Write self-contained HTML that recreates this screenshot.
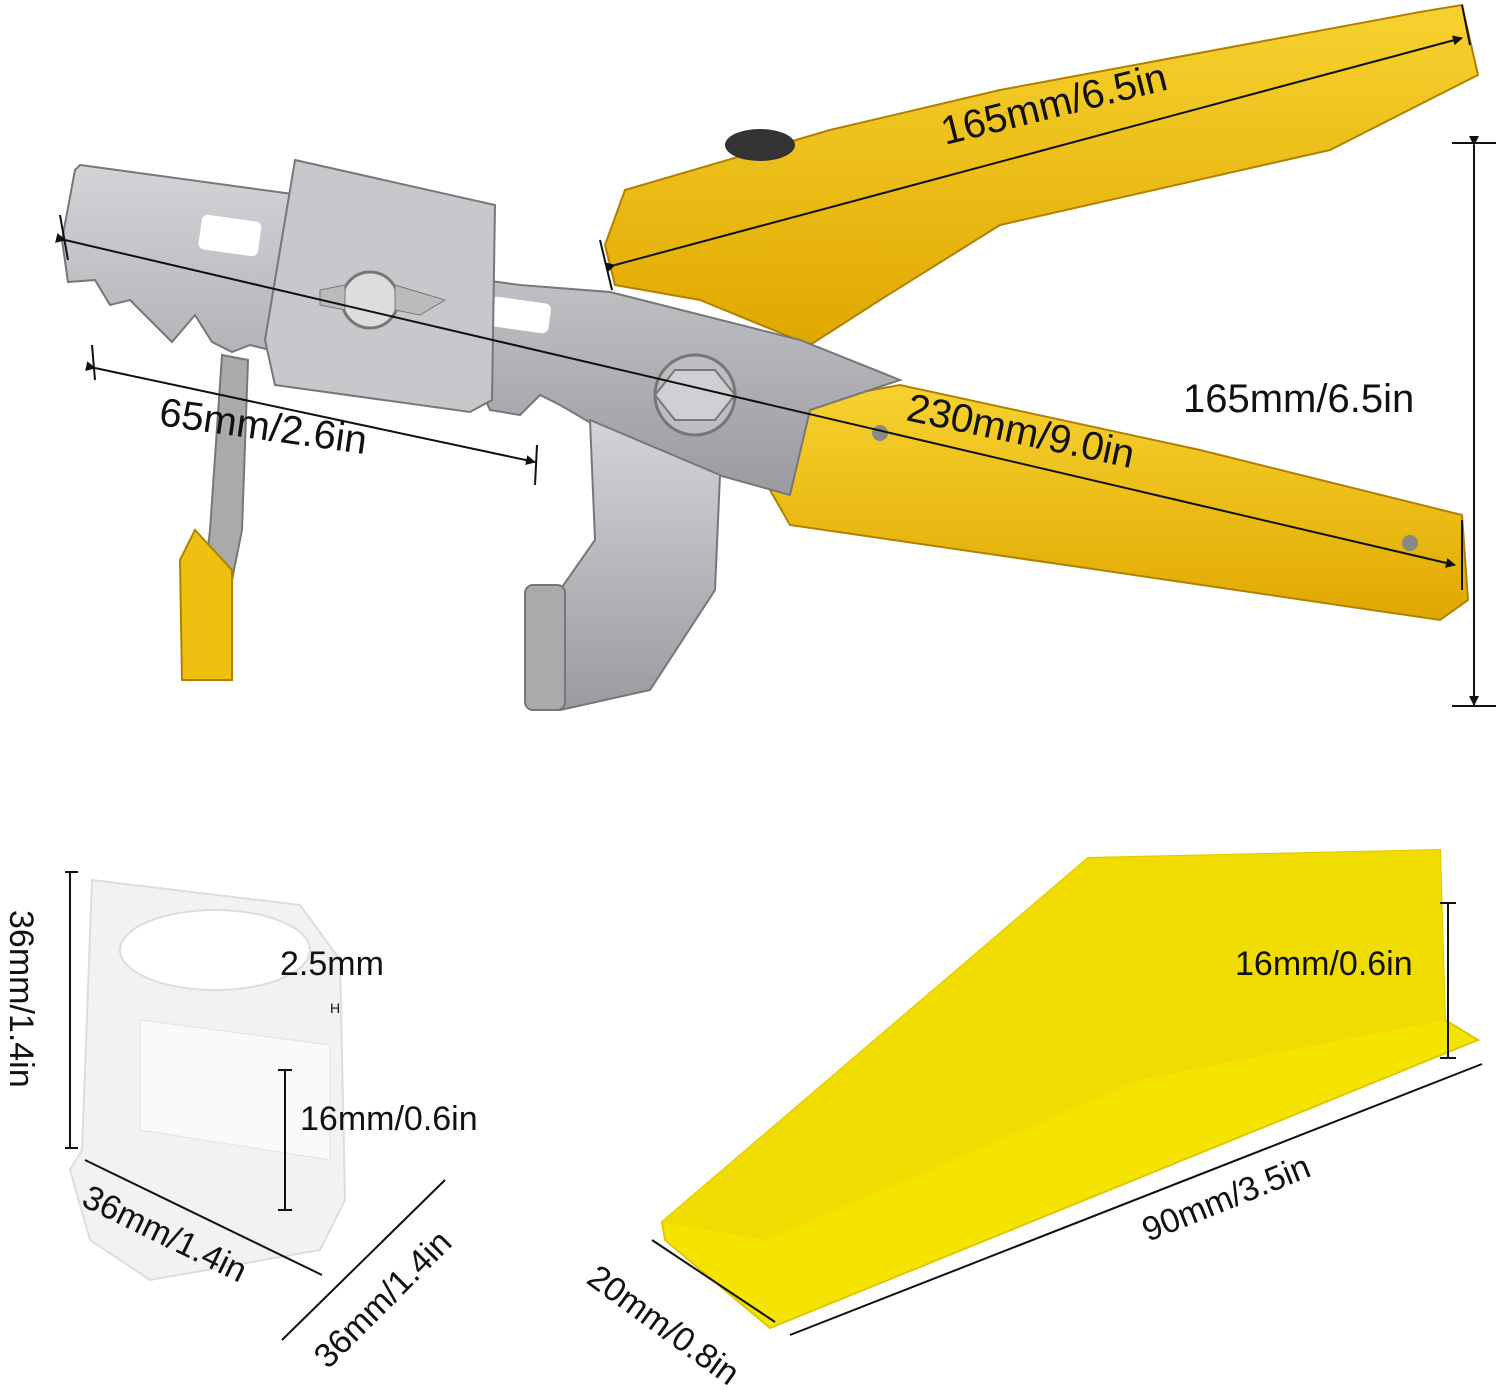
<!DOCTYPE html>
<html><head><meta charset="utf-8"><style>
html,body{margin:0;padding:0;background:#fff;}
svg{display:block;}
text{font-family:"Liberation Sans",sans-serif;fill:#111;}
</style></head><body>
<svg width="1500" height="1391" viewBox="0 0 1500 1391" xmlns="http://www.w3.org/2000/svg">
<defs>
<marker id="ar" markerWidth="10" markerHeight="10" refX="9" refY="5" orient="auto" markerUnits="userSpaceOnUse"><path d="M0,0 L10,5 L0,10 z" fill="#111"/></marker>
<linearGradient id="met" x1="0" y1="0" x2="0" y2="1"><stop offset="0" stop-color="#d4d4d8"/><stop offset="1" stop-color="#9a9aa0"/></linearGradient>
<linearGradient id="yel" x1="0" y1="0" x2="0" y2="1"><stop offset="0" stop-color="#f7d230"/><stop offset="1" stop-color="#e0a800"/></linearGradient>
</defs>

<!-- upper handle -->
<polygon points="605,245 625,190 830,130 1000,90 1420,12 1462,5 1478,75 1330,150 1000,225 880,300 810,345 700,300 615,285" fill="url(#yel)" stroke="#b08000" stroke-width="2"/>
<ellipse cx="760" cy="145" rx="35" ry="16" fill="#333"/>
<!-- lower handle -->
<polygon points="790,405 900,385 1200,450 1462,515 1468,600 1440,620 1100,570 790,525 770,490" fill="url(#yel)" stroke="#b08000" stroke-width="2"/>
<circle cx="880" cy="433" r="8" fill="#888"/>
<circle cx="1410" cy="543" r="8" fill="#888"/>

<!-- metal plate -->
<polygon points="80,165 300,195 300,255 520,285 610,292 800,340 900,380 810,410 790,495 700,470 620,440 560,405 540,395 520,415 490,410 470,365 270,350 250,345 232,352 212,342 195,315 172,342 150,320 130,300 110,305 95,280 68,282 62,240 75,170" fill="url(#met)" stroke="#777" stroke-width="2"/>
<rect x="200" y="218" width="60" height="35" rx="6" fill="#fff" transform="rotate(8 230 235)"/>
<rect x="490" y="300" width="60" height="30" rx="6" fill="#fff" transform="rotate(8 520 315)"/>
<!-- center block -->
<polygon points="295,160 495,205 492,400 470,412 275,385 265,340" fill="#c8c8cc" stroke="#777" stroke-width="2"/>
<circle cx="370" cy="300" r="28" fill="#ddd" stroke="#777" stroke-width="3"/>
<polygon points="320,290 345,285 345,310 320,305" fill="#bbb" stroke="#777"/>
<polygon points="395,285 445,300 420,315 395,310" fill="#bbb" stroke="#777"/>
<!-- lower jaw -->
<polygon points="590,420 720,475 715,590 650,690 560,710 545,700 560,590 595,540" fill="url(#met)" stroke="#777" stroke-width="2"/>
<rect x="525" y="585" width="40" height="125" rx="8" fill="#aaa" stroke="#777" stroke-width="2"/>
<polygon points="655,370 735,370 735,420 655,420" fill="none"/>
<circle cx="695" cy="395" r="40" fill="#bdbdc2" stroke="#777" stroke-width="3"/>
<polygon points="675,370 715,370 735,395 715,420 675,420 655,395" fill="#d0d0d4" stroke="#777" stroke-width="2"/>
<!-- left hanging piece -->
<polygon points="222,355 248,360 242,530 232,580 205,575 210,530" fill="#aaa" stroke="#777" stroke-width="2"/>
<polygon points="195,530 232,570 232,680 182,680 180,560" fill="#f0c010" stroke="#b08000" stroke-width="2"/>

<!-- dims pliers -->
<line x1="615" y1="265" x2="1462" y2="38" stroke="#111" stroke-width="2" marker-start="url(#ar)" marker-end="url(#ar)"/>
<line x1="600" y1="240" x2="612" y2="290" stroke="#111" stroke-width="2"/>
<line x1="1462" y1="5" x2="1470" y2="45" stroke="#111" stroke-width="2"/>
<text x="945" y="145" font-size="40" transform="rotate(-14 945 145)">165mm/6.5in</text>

<line x1="65" y1="240" x2="1455" y2="565" stroke="#111" stroke-width="2" marker-start="url(#ar)" marker-end="url(#ar)"/>
<line x1="60" y1="215" x2="68" y2="260" stroke="#111" stroke-width="2"/>
<line x1="1462" y1="520" x2="1462" y2="590" stroke="#111" stroke-width="2"/>
<text x="905" y="420" font-size="40" transform="rotate(12 905 420)">230mm/9.0in</text>

<line x1="95" y1="368" x2="535" y2="462" stroke="#111" stroke-width="2" marker-start="url(#ar)" marker-end="url(#ar)"/>
<line x1="92" y1="345" x2="95" y2="380" stroke="#111" stroke-width="2"/>
<line x1="537" y1="445" x2="535" y2="485" stroke="#111" stroke-width="2"/>
<text x="158" y="425" font-size="40" transform="rotate(8 158 425)">65mm/2.6in</text>

<line x1="1474" y1="145" x2="1474" y2="705" stroke="#111" stroke-width="2" marker-start="url(#ar)" marker-end="url(#ar)"/>
<line x1="1452" y1="143" x2="1496" y2="143" stroke="#111" stroke-width="2"/>
<line x1="1452" y1="706" x2="1496" y2="706" stroke="#111" stroke-width="2"/>
<text x="1183" y="412" font-size="40">165mm/6.5in</text>

<!-- clip -->
<polygon points="92,880 300,905 340,960 345,1200 320,1250 150,1280 90,1240 70,1170 82,1150" fill="#f2f2f2" stroke="#ddd" stroke-width="2"/>
<ellipse cx="215" cy="950" rx="95" ry="40" fill="#fff" stroke="#ddd" stroke-width="2"/>
<polygon points="140,1020 330,1045 330,1160 140,1130" fill="#fafafa" stroke="#e2e2e2"/>
<line x1="70" y1="872" x2="70" y2="1148" stroke="#111" stroke-width="2"/>
<line x1="65" y1="872" x2="78" y2="872" stroke="#111" stroke-width="2"/>
<line x1="65" y1="1148" x2="78" y2="1148" stroke="#111" stroke-width="2"/>
<text x="10" y="910" font-size="34" transform="rotate(90 10 910)">36mm/1.4in</text>
<text x="280" y="975" font-size="34">2.5mm</text>
<text x="330" y="1013" font-size="14">H</text>
<line x1="285" y1="1070" x2="285" y2="1210" stroke="#111" stroke-width="2"/>
<line x1="278" y1="1070" x2="292" y2="1070" stroke="#111" stroke-width="2"/>
<line x1="278" y1="1210" x2="292" y2="1210" stroke="#111" stroke-width="2"/>
<text x="300" y="1130" font-size="34">16mm/0.6in</text>
<line x1="85" y1="1160" x2="322" y2="1275" stroke="#111" stroke-width="2"/>
<text x="80" y="1205" font-size="34" transform="rotate(26 80 1205)">36mm/1.4in</text>
<line x1="282" y1="1340" x2="445" y2="1180" stroke="#111" stroke-width="2"/>
<text x="328" y="1370" font-size="34" transform="rotate(-45 328 1370)">36mm/1.4in</text>

<!-- wedge -->
<polygon points="662,1222 1088,858 1440,850 1445,1020 1478,1040 770,1328 665,1240" fill="#f5e400" stroke="#e0c800" stroke-width="2"/>
<polygon points="662,1222 1088,858 1440,850 1445,1020 1140,1080 765,1240" fill="#f0dc00"/>
<line x1="1448" y1="903" x2="1448" y2="1058" stroke="#111" stroke-width="2"/>
<line x1="1440" y1="903" x2="1456" y2="903" stroke="#111" stroke-width="2"/>
<line x1="1440" y1="1058" x2="1456" y2="1058" stroke="#111" stroke-width="2"/>
<text x="1235" y="975" font-size="34">16mm/0.6in</text>
<line x1="790" y1="1335" x2="1482" y2="1064" stroke="#111" stroke-width="2"/>
<text x="1148" y="1242" font-size="34" transform="rotate(-22 1148 1242)">90mm/3.5in</text>
<line x1="652" y1="1240" x2="775" y2="1322" stroke="#111" stroke-width="2"/>
<text x="585" y="1282" font-size="34" transform="rotate(36 585 1282)">20mm/0.8in</text>
</svg>
</body></html>
